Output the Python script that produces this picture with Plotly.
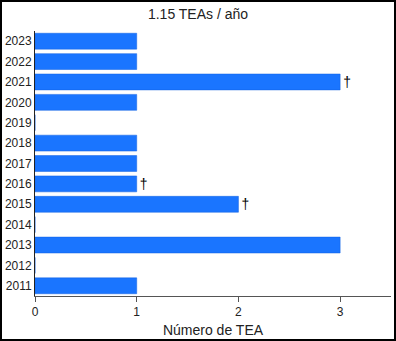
import plotly.graph_objects as go

years = ["2011", "2012", "2013", "2014", "2015", "2016", "2017", "2018", "2019", "2020", "2021", "2022", "2023"]
counts = [1, 0, 3, 0, 2, 1, 1, 1, 0, 1, 3, 1, 1]
marks = ["", "", "", "", "†", "†", "", "", "", "", "†", "", ""]
title = "1.15 TEAs / año"
xlabel = "Número de TEA"

fig = go.Figure(go.Bar(
    y=years, x=counts, orientation="h",
    marker=dict(color="#1a75ff", line=dict(color="#1060e0", width=0.5)),
    text=marks, textposition="outside", cliponaxis=False,
    textfont=dict(size=14, color="black"),
    width=0.78,
))

L, R, T, B = 35, 5, 31, 45
W, H = 396, 341
pw, ph = W - L - R, H - T - B

fig.update_layout(
    width=W, height=H,
    margin=dict(l=L, r=R, t=T, b=B),
    paper_bgcolor="white", plot_bgcolor="white",
    font=dict(family="Liberation Sans, Arial", size=12, color="#222"),
    title=dict(text=title, x=0.5, xanchor="center", y=1 - 14 / H, yanchor="middle",
               font=dict(size=14, color="#222")),
    showlegend=False,
    xaxis=dict(range=[0, 3.5], tickvals=[0, 1, 2, 3], showgrid=False, zeroline=False,
               showline=True, linecolor="#555", linewidth=1, ticks="outside", ticklen=5,
               tickcolor="#555",
               title=dict(text=xlabel, font=dict(size=14, color="#222"), standoff=6)),
    yaxis=dict(categoryorder="array", categoryarray=years, showgrid=False, zeroline=False,
               showline=True, linecolor="#222", linewidth=1, ticks="", ticklen=0,
               range=[-0.5, 12.5]),
    shapes=[dict(type="rect", xref="paper", yref="paper",
                 x0=(1 - L) / pw, x1=(W - 1 - L) / pw,
                 y0=(H - B - (H - 1)) / ph, y1=(H - B - 1) / ph,
                 line=dict(color="black", width=2))],
)

fig.write_html("out.html")
